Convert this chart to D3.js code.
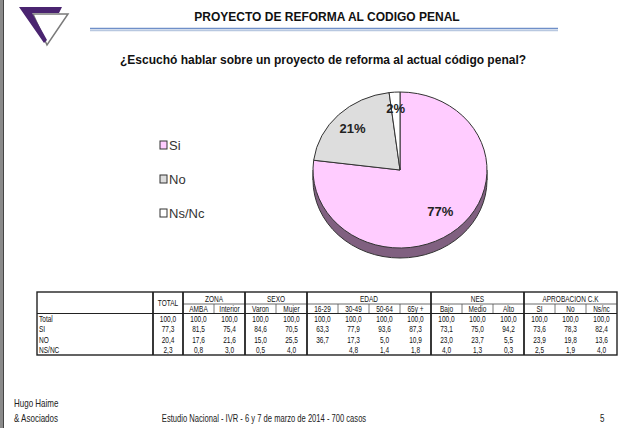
<!DOCTYPE html>
<html>
<head>
<meta charset="utf-8">
<script src="https://cdn.jsdelivr.net/npm/d3@7"></script>
<style>
  body { margin: 0; background: #fff; }
  svg { display: block; font-family: "Liberation Sans", Arial, sans-serif; }
</style>
</head>
<body>
<div id="chart"></div>
<script>
// pie data
const pieLabels = ["Si", "No", "Ns/Nc"];
const pieValues = [77, 21, 2];
const pieColors = ["#ffccff", "#dddddd", "#ffffff"];

// table data
const groups = ["ZONA", "SEXO", "EDAD", "NES", "APROBACION C.K"];
const groupSpans = [2, 2, 4, 3, 3];
const subHeaders = ["AMBA", "Interior", "Varon", "Mujer", "16-29", "30-49", "50-64", "65y +", "Bajo", "Medio", "Alto", "SI", "No", "Ns/nc"];
const rowLabels = ["Total", "SI", "NO", "NS/NC"];
const rowTotal = ["100,0", "100,0", "100,0", "100,0", "100,0", "100,0", "100,0", "100,0", "100,0", "100,0", "100,0", "100,0", "100,0", "100,0", "100,0"];
const rowSi = ["77,3", "81,5", "75,4", "84,6", "70,5", "63,3", "77,9", "93,6", "87,3", "73,1", "75,0", "94,2", "73,6", "78,3", "82,4"];
const rowNo = ["20,4", "17,6", "21,6", "15,0", "25,5", "36,7", "17,3", "5,0", "10,9", "23,0", "23,7", "5,5", "23,9", "19,8", "13,6"];
const rowNsnc = ["2,3", "0,8", "3,0", "0,5", "4,0", "", "4,8", "1,4", "1,8", "4,0", "1,3", "0,3", "2,5", "1,9", "4,0"];

const W = 642, H = 428;
const svg = d3.select("#chart").append("svg").attr("width", W).attr("height", H);

// condensed text: place at x,y and squeeze horizontally
const squeeze = (sel, fx, fy, sx) =>
    sel.attr("transform", (d, i) => `translate(${fx(d, i)},${fy(d, i)}) scale(${sx},1)`);

// left frame strip
svg.append("rect").attr("x", 0).attr("y", 0).attr("width", 4).attr("height", H).attr("fill", "#8a8a8a");
svg.append("line").attr("x1", 3.5).attr("x2", 3.5).attr("y1", 0).attr("y2", H).attr("stroke", "#444");

// logo
const logo = svg.append("g");
logo.append("polygon")
    .attr("points", "33,14 68,14 47,45")
    .attr("fill", "none").attr("stroke", "#7a7a7a").attr("stroke-width", 1.5);
logo.append("polygon")
    .attr("points", "19,7 62,7 59,13 32,13 47,40 44,43")
    .attr("fill", "#4a2470");

// title
svg.append("text")
    .attr("x", 327).attr("y", 21)
    .attr("text-anchor", "middle")
    .style("font-weight", "bold").style("font-size", "12px")
    .attr("fill", "#111")
    .text("PROYECTO DE REFORMA AL CODIGO PENAL");
svg.append("line").attr("x1", 90).attr("x2", 558).attr("y1", 28.5).attr("y2", 28.5)
    .attr("stroke", "#6f8fc8").attr("stroke-width", 1.5);
svg.append("line").attr("x1", 90).attr("x2", 558).attr("y1", 30.5).attr("y2", 30.5)
    .attr("stroke", "#b8c8e0").attr("stroke-width", 1.5);

svg.append("text")
    .attr("x", 323).attr("y", 64)
    .attr("text-anchor", "middle")
    .style("font-weight", "bold").style("font-size", "12px")
    .attr("fill", "#111")
    .text("¿Escuchó hablar sobre un proyecto de reforma al actual código penal?");

// legend
const legend = svg.append("g").attr("transform", "translate(160,141)");
const legItem = legend.selectAll("g").data(pieLabels).join("g")
    .attr("transform", (d, i) => `translate(0, ${i * 34})`);
legItem.append("rect")
    .attr("width", 7).attr("height", 8)
    .attr("fill", (d, i) => pieColors[i])
    .attr("stroke", "#333");
legItem.append("text")
    .attr("x", 9).attr("y", 8.5)
    .style("font-size", "13px").attr("fill", "#333")
    .text(d => d);

// pie (3D look: ellipse + side)
const cx = 400, cy = 170, rx = 87, ry = 78, depth = 10;
const k = ry / rx;
const pieG = svg.append("g").attr("transform", `translate(${cx},${cy}) scale(1,${k})`);
const arc = d3.arc().innerRadius(0).outerRadius(rx);
const pie = d3.pie().sort(null).startAngle(0).endAngle(2 * Math.PI);
const arcs = pie(pieValues);

pieG.append("circle").attr("cx", 0).attr("cy", depth / k).attr("r", rx)
    .attr("fill", "#806080").attr("stroke", "#333").attr("vector-effect", "non-scaling-stroke");
pieG.append("rect").attr("x", -rx).attr("y", 0).attr("width", 2 * rx).attr("height", depth / k)
    .attr("fill", "#806080");
pieG.append("line").attr("x1", -rx).attr("x2", -rx).attr("y1", 0).attr("y2", depth / k)
    .attr("stroke", "#333").attr("vector-effect", "non-scaling-stroke");
pieG.append("line").attr("x1", rx).attr("x2", rx).attr("y1", 0).attr("y2", depth / k)
    .attr("stroke", "#333").attr("vector-effect", "non-scaling-stroke");
pieG.selectAll("path.slice").data(arcs).join("path")
    .attr("class", "slice")
    .attr("d", arc)
    .attr("fill", (d, i) => pieColors[i])
    .attr("stroke", "#333")
    .attr("stroke-width", 1)
    .attr("vector-effect", "non-scaling-stroke");

// label radius as fraction of the pie radius
const labelR = [0.7, 0.77, 0.8];
const mid = d => (d.startAngle + d.endAngle) / 2;
svg.append("g").selectAll("text").data(arcs).join("text")
    .attr("x", (d, i) => cx + Math.sin(mid(d)) * rx * labelR[i])
    .attr("y", (d, i) => cy - Math.cos(mid(d)) * ry * labelR[i] + 5)
    .attr("text-anchor", "middle")
    .style("font-weight", "bold").style("font-size", "13px")
    .attr("fill", "#222")
    .text((d, i) => pieValues[i] + "%");

// table
const tX = 37, tY = 292, tR = 617, tB = 355;
const labelW = 116, totalW = 30;
const sx = 0.76;
const subX = d3.scaleLinear().domain([0, subHeaders.length]).range([tX + labelW + totalW, tR]);
const rowY = d3.scaleLinear().domain([0, rowLabels.length]).range([314, tB]);
const tbl = svg.append("g").style("font-size", "8.6px").attr("fill", "#111");

tbl.append("rect").attr("x", tX).attr("y", tY).attr("width", tR - tX).attr("height", tB - tY)
    .attr("fill", "#fff").attr("stroke", "#222").attr("stroke-width", 1.4);

let start = 0;
const groupStarts = groupSpans.map(s => { const v = start; start += s; return v; });
tbl.append("line").attr("x1", subX(0)).attr("x2", tR).attr("y1", 304).attr("y2", 304)
    .attr("stroke", "#444").attr("stroke-width", 0.8);
tbl.append("line").attr("x1", tX).attr("x2", tR).attr("y1", 313.5).attr("y2", 313.5)
    .attr("stroke", "#222").attr("stroke-width", 1);
// thick verticals between groups
const thickX = [tX + labelW, tX + labelW + totalW].concat(groupStarts.slice(1).map(g => subX(g)));
tbl.selectAll("line.thick").data(thickX).join("line")
    .attr("class", "thick")
    .attr("x1", d => d).attr("x2", d => d).attr("y1", tY).attr("y2", tB)
    .attr("stroke", "#222").attr("stroke-width", 1.8);
// thin verticals in subheader row
const thinIdx = d3.range(1, subHeaders.length).filter(i => !groupStarts.includes(i));
tbl.selectAll("line.thin").data(thinIdx).join("line")
    .attr("class", "thin")
    .attr("x1", d => subX(d)).attr("x2", d => subX(d)).attr("y1", 304).attr("y2", 313)
    .attr("stroke", "#555").attr("stroke-width", 0.8);

squeeze(tbl.append("text").attr("text-anchor", "middle").text("TOTAL"),
    () => tX + labelW + totalW / 2, () => 306, sx);
squeeze(tbl.selectAll("text.grp").data(groups).join("text")
    .attr("class", "grp").attr("text-anchor", "middle").text(d => d),
    (d, i) => (subX(groupStarts[i]) + subX(groupStarts[i] + groupSpans[i])) / 2, () => 301.5, sx);
squeeze(tbl.selectAll("text.sub").data(subHeaders).join("text")
    .attr("class", "sub").attr("text-anchor", "middle").text(d => d),
    (d, i) => subX(i + 0.5), () => 311.5, sx);

const rows = [rowTotal, rowSi, rowNo, rowNsnc];
rows.forEach((vals, r) => {
    const y = rowY(r + 0.5) + 3;
    squeeze(tbl.append("text").text(rowLabels[r]), () => tX + 2, () => y, sx);
    squeeze(tbl.selectAll(null).data(vals).join("text")
        .attr("text-anchor", "middle").text(d => d),
        (d, i) => i === 0 ? tX + labelW + totalW / 2 : subX(i - 1 + 0.5), () => y, sx);
});

// footer
const foot = svg.append("g").style("font-size", "10px").attr("fill", "#222");
squeeze(foot.append("text").text("Hugo Haime"), () => 14, () => 407, 0.8);
squeeze(foot.append("text").text("& Asociados"), () => 14, () => 422, 0.8);
squeeze(foot.append("text").attr("text-anchor", "middle")
    .text("Estudio Nacional - IVR - 6 y 7 de marzo de 2014 - 700 casos"), () => 264, () => 422, 0.76);
squeeze(foot.append("text").text("5"), () => 600, () => 422, 0.8);
</script>
</body>
</html>
